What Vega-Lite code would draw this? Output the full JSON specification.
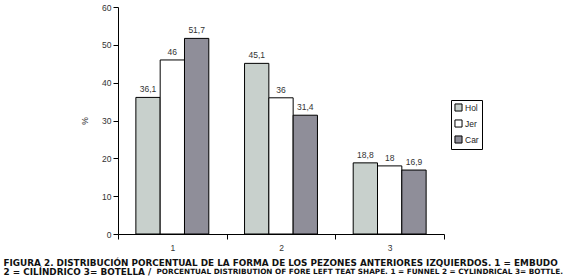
{
  "$schema": "https://vega.github.io/schema/vega-lite/v6.json",
  "width": 326,
  "height": 227,
  "autosize": {"type": "none"},
  "padding": {"left": 118, "top": 7, "right": 122, "bottom": 45},
  "background": "white",
  "title": {
    "text": "PORCENTUAL DISTRIBUTION OF FORE LEFT TEAT SHAPE. 1 = FUNNEL 2 = CYLINDRICAL 3= BOTTLE.",
    "orient": "bottom",
    "anchor": "end",
    "frame": "group",
    "dx": 119,
    "offset": -2,
    "baseline": "alphabetic",
    "limit": 1000,
    "font": "DejaVu Sans",
    "fontSize": 7.3,
    "fontWeight": "bold",
    "color": "#111"
  },
  "data": {
    "values": [
      {"cat": "1", "breed": "Hol", "v": 36.1, "lab": "36,1"},
      {"cat": "1", "breed": "Jer", "v": 46, "lab": "46"},
      {"cat": "1", "breed": "Car", "v": 51.7, "lab": "51,7"},
      {"cat": "2", "breed": "Hol", "v": 45.1, "lab": "45,1"},
      {"cat": "2", "breed": "Jer", "v": 36, "lab": "36"},
      {"cat": "2", "breed": "Car", "v": 31.4, "lab": "31,4"},
      {"cat": "3", "breed": "Hol", "v": 18.8, "lab": "18,8"},
      {"cat": "3", "breed": "Jer", "v": 18, "lab": "18"},
      {"cat": "3", "breed": "Car", "v": 16.9, "lab": "16,9"}
    ]
  },
  "encoding": {
    "x": {
      "field": "cat",
      "type": "nominal",
      "scale": {"paddingInner": 0, "paddingOuter": 0},
      "axis": {
        "title": ["FIGURA 2. DISTRIBUCIÓN PORCENTUAL DE LA FORMA DE LOS PEZONES ANTERIORES IZQUIERDOS. 1 = EMBUDO", "2 = CILÍNDRICO 3= BOTELLA /"],
        "titleX": -115,
        "titleY": 31,
        "titleAlign": "left",
        "titleBaseline": "alphabetic",
        "titleLineHeight": 9.5,
        "titleLimit": 1000,
        "titleFont": "DejaVu Sans",
        "titleFontSize": 8.85,
        "titleFontWeight": "bold",
        "titleColor": "#111",
        "labelAngle": 0,
        "tickBand": "extent",
        "domainColor": "#000",
        "tickColor": "#000",
        "tickSize": 5,
        "labelPadding": 4,
        "labelFont": "Liberation Sans",
        "labelFontSize": 8.5,
        "labelColor": "#333"
      }
    },
    "xOffset": {
      "field": "breed",
      "type": "nominal",
      "sort": ["Hol", "Jer", "Car"],
      "scale": {"paddingInner": 0, "paddingOuter": 0.735}
    },
    "y": {
      "field": "v",
      "type": "quantitative",
      "scale": {"domain": [0, 60], "nice": false},
      "axis": {
        "title": "%",
        "titleFont": "Liberation Sans",
        "titleFontSize": 8.5,
        "titleFontWeight": "normal",
        "titleColor": "#333",
        "titlePadding": 12,
        "values": [0, 10, 20, 30, 40, 50, 60],
        "grid": false,
        "domainColor": "#000",
        "tickColor": "#000",
        "tickSize": 5,
        "labelPadding": 2,
        "labelFont": "Liberation Sans",
        "labelFontSize": 8.5,
        "labelColor": "#333"
      }
    }
  },
  "layer": [
    {
      "mark": {"type": "bar", "stroke": "#000", "strokeWidth": 1},
      "encoding": {
        "color": {
          "field": "breed",
          "type": "nominal",
          "sort": ["Hol", "Jer", "Car"],
          "scale": {"domain": ["Hol", "Jer", "Car"], "range": ["#c8d0cc", "#ffffff", "#8f8e99"]},
          "legend": {
            "title": null,
            "orient": "none",
            "legendX": 333,
            "legendY": 93,
            "strokeColor": "#000",
            "padding": 3,
            "symbolType": "square",
            "symbolSize": 50,
            "symbolStrokeColor": "#000",
            "symbolStrokeWidth": 1,
            "symbolOpacity": 1,
            "labelFont": "Liberation Sans",
            "labelFontSize": 8.5,
            "labelColor": "#222",
            "labelOffset": 2,
            "rowPadding": 3
          }
        }
      }
    },
    {
      "mark": {"type": "text", "baseline": "alphabetic", "dy": -5, "font": "Liberation Sans", "fontSize": 8.5, "color": "#333"},
      "encoding": {
        "text": {"field": "lab"}
      }
    }
  ],
  "config": {
    "view": {"stroke": null}
  }
}
